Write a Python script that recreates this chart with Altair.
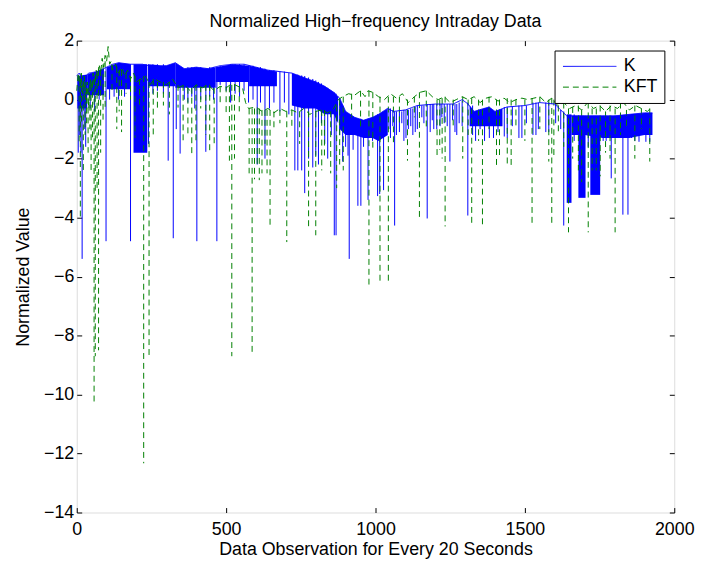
import altair as alt
import pandas as pd

FONT = "Liberation Sans"
BLUE = "#0000ff"
GREEN = "#008000"

# ---------------- K series ----------------
K_base_x = [0, 8, 20, 40, 70, 100, 120, 140, 180, 220, 260, 300, 330, 360, 400, 440, 480, 520, 560, 600,
            640, 680, 720, 760, 800, 830, 860, 880, 900, 930, 960, 990, 1010, 1040, 1060, 1100, 1140, 1200,
            1260, 1290, 1310, 1330, 1380, 1400, 1440, 1500, 1550, 1600, 1620, 1640, 1700, 1760, 1800, 1850,
            1900, 1927]
K_base_y = [0.8, 0.9, 0.7, 0.9, 0.95, 1.1, 1.2, 1.25, 1.2, 1.2, 1.1, 1.15, 1.25, 1.05, 1.1, 1.05, 1.15, 1.2,
            1.2, 1.1, 1.0, 0.95, 0.9, 0.75, 0.6, 0.45, 0.25, 0.05, -0.4, -0.6, -0.7, -0.6, -0.5, -0.3, -0.4,
            -0.35, -0.2, -0.15, -0.15, 0.0, -0.15, -0.4, -0.25, -0.4, -0.25, -0.2, -0.1, -0.15, -0.35, -0.55,
            -0.55, -0.55, -0.55, -0.5, -0.45, -0.45]

# dense, almost solid regions of K (group, x, top, bottom)
K_fill_g = [1, 1, 2, 2, 3, 3, 3, 4, 4, 5, 5, 5, 6, 6, 6, 6, 6, 7, 7, 7, 8, 8, 8,
            9, 9, 9, 9, 9, 9, 10, 10, 10, 10, 10, 10, 10, 11, 11, 11, 11, 11,
            12, 12, 13, 13, 13, 13, 13, 13, 13, 14, 14, 15, 15]
K_fill_x = [2, 35, 35, 91, 101, 140, 180, 190, 236, 240, 300, 330, 330, 360, 400, 440, 465, 465, 520, 577,
            577, 640, 670,
            720, 760, 800, 830, 860, 875, 880, 900, 930, 960, 990, 1010, 1041, 1315, 1330, 1380, 1400, 1425,
            1640, 1656, 1656, 1700, 1760, 1800, 1850, 1900, 1927, 1679, 1703, 1719, 1752]
K_fill_top = [0.8, 0.85, 0.85, 1.05, 1.1, 1.25, 1.2, 1.2, 1.2, 1.2, 1.15, 1.25, 1.25, 1.05, 1.1, 1.05, 1.1,
              1.1, 1.2, 1.15, 1.15, 1.0, 0.95,
              0.9, 0.75, 0.6, 0.45, 0.25, 0.1, 0.05, -0.4, -0.6, -0.7, -0.6, -0.5, -0.3, -0.2, -0.4, -0.25,
              -0.4, -0.3, -0.5, -0.5, -0.55, -0.55, -0.55, -0.55, -0.5, -0.45, -0.45, -0.55, -0.55, -0.55, -0.55]
K_fill_bot = [-0.3, -0.3, 0.15, 0.15, 0.35, 0.35, 0.35, -1.8, -1.8, 0.45, 0.45, 0.45, 0.4, 0.4, 0.4, 0.4, 0.4,
              0.6, 0.6, 0.6, 0.45, 0.45, 0.45,
              -0.2, -0.3, -0.3, -0.5, -0.5, -0.8, -1.0, -1.2, -1.2, -1.3, -1.3, -1.4, -1.2, -0.9, -0.9, -0.9,
              -0.9, -0.9, -3.5, -3.5, -1.2, -1.2, -1.3, -1.3, -1.3, -1.2, -1.2, -3.33, -3.33, -3.23, -3.23]

# individual downward spikes of K
K_spike_x = [5, 10, 14, 18, 25, 30, 45, 60, 75, 98, 110, 125, 140, 160, 180, 240, 255, 270, 290, 306, 323, 333,
             346, 360, 372, 385, 395, 402, 415, 432, 445, 458, 469, 480, 500, 515, 530, 545, 560, 575, 590, 604,
             615, 630, 645, 660, 680, 695, 710, 730, 740, 753, 763, 776, 790, 800, 809, 819, 830, 840, 852, 862,
             868, 880, 890, 900, 908, 912, 925, 941, 951, 960, 975, 990, 1007, 1014, 1027, 1045, 1050, 1058,
             1064, 1070, 1080, 1088, 1095, 1102, 1110, 1118, 1125, 1133, 1140, 1155, 1162, 1173, 1183, 1190,
             1195, 1205, 1216, 1222, 1230, 1240, 1249, 1258, 1266, 1272, 1280, 1290, 1309, 1325, 1335, 1350,
             1365, 1381, 1395, 1410, 1431, 1441, 1458, 1480, 1490, 1505, 1527, 1537, 1545, 1570, 1580, 1603,
             1620, 1630, 1665, 1712, 1762, 1772, 1789, 1800, 1828, 1845, 1857, 1868, 1882, 1895, 1905, 1918]
K_spike_top = [0.8, 0.8, 0.8, 0.8, 0.8, 0.8, 0.9, 0.9, 0.9, 1.1, 1.1, 1.2, 1.2, 1.2, 1.2, 1.2, 1.2, 1.2, 1.2, 1.15,
               1.2, 1.2, 1.1, 1.05, 1.1, 1.1, 1.1, 1.1, 1.1, 1.05, 1.1, 1.1, 1.1, 1.15, 1.15, 1.2, 1.2, 1.2, 1.2,
               1.15, 1.15, 1.1, 1.1, 1.05, 1.0, 1.0, 0.95, 0.95, 0.9, 0.85, 0.85, 0.82, 0.8, 0.75, 0.7, 0.65, 0.6,
               0.55, 0.45, 0.4, 0.3, 0.25, 0.2, 0.05, -0.2, -0.4, -0.5, -0.5, -0.6, -0.65, -0.65, -0.7, -0.65,
               -0.6, -0.5, -0.5, -0.45, -0.3, -0.3, -0.35, -0.4, -0.4, -0.4, -0.4, -0.35, -0.35, -0.35, -0.3,
               -0.3, -0.25, -0.2, -0.2, -0.2, -0.15, -0.15, -0.15, -0.15, -0.15, -0.15, -0.15, -0.15, -0.15,
               -0.15, -0.15, -0.15, -0.15, -0.1, -0.05, -0.1, -0.2, -0.4, -0.35, -0.3, -0.3, -0.4, -0.35, -0.25,
               -0.25, -0.25, -0.2, -0.2, -0.2, -0.1, -0.1, -0.1, -0.1, -0.1, -0.15, -0.35, -0.4, -0.5, -0.55,
               -0.55, -0.55, -0.55, -0.55, -0.55, -0.55, -0.5, -0.5, -0.5, -0.5, -0.45, -0.45]
K_spike_bot = [-1.8, -1.2, -1.8, -5.4, -1.0, -1.6, -0.3, -0.4, 0.0, -4.8, 0.0, 0.1, 0.0, 0.1, -4.8, -1.5, 0.2, 0.3,
               0.2, -2.07, -4.7, -1.0, -1.83, 0.0, -0.1, 0.1, -0.3, -4.8, 0.0, -1.77, 0.1, 0.0, -4.8, 0.5, 0.3,
               -0.1, 0.2, 0.1, 0.3, -0.1, 0.0, -2.2, -0.1, -2.0, -0.3, -0.1, -0.4, -0.1, -0.5, -2.4, -2.4, -2.4,
               -3.17, -2.0, -2.3, -1.9, -2.2, -0.8, -1.5, -2.0, -1.2, -4.6, -4.6, -1.2, -2.1, -1.6, -1.9, -5.4,
               -1.7, -3.6, -3.6, -1.6, -3.4, -1.4, -3.27, -3.2, -3.07, -1.0, -1.3, -0.9, -4.27, -1.2, -1.1,
               -0.8, -1.4, -1.3, -1.0, -0.9, -1.2, -1.1, -1.0, -0.6, -0.8, -4.03, -1.1, -0.7, -1.0, -1.0, -0.9,
               -0.6, -0.8, -0.9, -2.1, -0.7, -1.1, -1.2, -0.8, -0.9, -3.93, -1.2, -1.4, -1.0, -1.4, -1.3, -1.3,
               -1.1, -1.25, -1.3, -0.9, -1.3, -1.3, -0.8, -1.2, -1.2, -1.0, -1.1, -1.1, -0.8, -1.0, -4.27, -1.4,
               -1.6, -1.4, -1.4, -2.67, -1.1, -3.9, -3.9, -1.3, -1.4, -1.43, -1.2, -1.43, -1.43]

# ---------------- KFT series ----------------
F_base_x = [0, 5, 10, 15, 20, 25, 30, 35, 40, 45, 50, 55, 60, 65, 70, 75, 80, 85, 90, 95, 100, 105, 110, 115,
            120, 130, 140, 150, 160, 170, 180, 190, 200, 215, 230, 245, 260, 280, 300, 320, 340, 360, 380, 400,
            420, 440, 460, 480, 500, 520, 540, 555, 565, 575, 600, 620, 640, 660, 680, 700, 720, 740, 760, 780,
            800, 820, 840, 860, 875, 890, 910, 930, 950, 965, 975, 990, 1010, 1030, 1050, 1070, 1090, 1110,
            1130, 1150, 1170, 1190, 1210, 1230, 1250, 1270, 1290, 1310, 1330, 1350, 1370, 1390, 1410, 1430,
            1450, 1470, 1490, 1510, 1530, 1550, 1570, 1590, 1610, 1630, 1650, 1670, 1690, 1710, 1730, 1750,
            1770, 1790, 1810, 1830, 1850, 1870, 1890, 1910, 1920]
F_base_y = [0.3, 0.9, 0.5, 0.9, 0.2, 0.8, 0.0, 0.6, -0.3, 0.7, 0.4, 0.9, 0.5, 1.0, 0.8, 1.2, 0.9, 1.4, 1.1, 1.5,
            1.3, 1.8, 1.2, 1.3, 1.0, 1.2, 0.9, 1.1, 0.8, 1.0, 0.7, 0.9, 0.6, 0.7, 0.8, 0.5, 0.7, 0.6, 0.5, 0.7,
            0.4, 0.5, 0.3, 0.5, 0.4, 0.5, 0.3, 0.45, 0.4, 0.55, 0.45, 0.4, -0.1, -0.3, -0.25, -0.4, -0.3, -0.45,
            -0.3, -0.4, -0.35, -0.45, -0.3, -0.5, -0.4, -0.35, -0.45, -0.3, 0.0, 0.1, 0.2, 0.15, 0.3, 0.1, 0.3,
            0.25, 0.1, 0.0, 0.2, 0.05, 0.2, -0.1, 0.1, 0.25, 0.3, 0.1, 0.0, 0.1, -0.1, 0.0, 0.1, 0.0, 0.1, -0.1,
            0.05, 0.1, -0.05, 0.05, -0.1, 0.0, 0.05, 0.0, 0.05, 0.1, -0.1, 0.05, -0.2, -0.1, -0.3, -0.2, -0.35,
            -0.1, -0.3, -0.2, -0.4, -0.2, -0.3, -0.1, -0.35, -0.2, -0.3, -0.4, -0.3]

F_spike_x = [8, 12, 16, 22, 28, 33, 38, 44, 48, 53, 58, 62, 68, 73, 80, 88, 95, 118, 134, 142, 150, 165, 180, 195,
             210, 224, 242, 256, 270, 290, 310, 339, 356, 372, 385, 399, 415, 432, 445, 460, 480, 500, 511, 519,
             528, 544, 577, 587, 595, 604, 611, 620, 630, 637, 647, 660, 680, 703, 720, 746, 776, 800, 820, 829,
             850, 870, 880, 892, 920, 950, 978, 991, 1015, 1043, 1060, 1080, 1107, 1130, 1147, 1170, 1206, 1215,
             1223, 1233, 1260, 1292, 1310, 1322, 1345, 1358, 1380, 1405, 1415, 1441, 1454, 1470, 1500, 1524,
             1550, 1580, 1590, 1597, 1612, 1630, 1646, 1660, 1679, 1690, 1712, 1725, 1739, 1752, 1770, 1785,
             1802, 1820, 1840, 1868, 1890, 1918]
F_spike_top = [0.8, 0.6, 0.8, 0.5, 0.6, 0.4, 0.4, 0.5, 0.5, 0.6, 0.7, 0.8, 0.9, 1.0, 1.0, 1.2, 1.3, 1.2, 1.1, 1.0,
               1.0, 0.9, 0.8, 0.8, 0.7, 0.8, 0.6, 0.7, 0.6, 0.6, 0.6, 0.5, 0.5, 0.4, 0.4, 0.5, 0.45, 0.5, 0.5, 0.4,
               0.45, 0.45, 0.45, 0.5, 0.5, 0.45, -0.3, -0.3, -0.3, -0.3, -0.3, -0.35, -0.35, -0.35, -0.35, -0.4,
               -0.35, -0.4, -0.35, -0.4, -0.4, -0.4, -0.35, -0.35, -0.4, -0.2, 0.0, 0.1, 0.2, 0.3, 0.3, 0.25, 0.1,
               0.1, 0.1, 0.1, 0.0, 0.1, 0.25, 0.3, 0.0, 0.0, 0.05, 0.1, 0.0, 0.1, 0.0, 0.05, 0.0, 0.0, 0.1, 0.0,
               0.0, 0.05, 0.0, 0.0, 0.0, 0.05, 0.1, 0.0, 0.05, 0.0, -0.2, -0.1, -0.3, -0.25, -0.2, -0.35, -0.1,
               -0.3, -0.3, -0.2, -0.4, -0.2, -0.3, -0.1, -0.35, -0.2, -0.3, -0.3]
F_spike_bot = [-1.5, -4.0, -0.8, -2.5, -1.2, -0.8, -1.8, -1.0, -2.4, -1.4, -10.3, -8.7, -3.0, -8.5, -1.8, -0.8,
               -0.3, 0.2, -1.0, -0.4, -1.1, 0.2, 0.0, -1.3, -0.3, -12.33, -8.73, -1.3, -0.4, -0.2, -0.5, -0.27,
               -1.5, -1.2, -1.9, -1.5, -0.3, -1.2, -1.73, -1.6, -0.2, -0.5, -2.07, -8.7, -2.0, -0.4, -2.5, -8.57,
               -2.7, -2.2, -2.73, -2.5, -1.5, -2.5, -4.33, -1.0, -0.8, -4.83, -1.0, -1.5, -4.3, -4.6, -2.4, -2.0,
               -2.5, -3.0, -2.2, -2.4, -0.6, -1.0, -6.27, -1.73, -6.2, -6.2, -1.5, -0.8, -2.07, -0.6, -4.07, -1.0,
               -2.0, -1.7, -2.0, -4.3, -1.0, -2.0, -1.2, -4.27, -1.4, -4.27, -1.0, -2.27, -2.0, -2.2, -2.3, -1.0,
               -1.4, -4.2, -1.0, -2.1, -4.2, -1.9, -1.2, -1.6, -4.5, -2.0, -2.4, -2.8, -4.5, -2.4, -2.4, -2.6,
               -1.8, -2.0, -4.5, -1.2, -1.0, -2.0, -1.0, -2.1]

x_ticks = [0, 500, 1000, 1500, 2000]
y_ticks = [-14, -12, -10, -8, -6, -4, -2, 0, 2]

# ---------------- tables ----------------
lines = pd.concat([
    pd.DataFrame({"x": K_base_x, "y": K_base_y, "series": "K"}),
    pd.DataFrame({"x": F_base_x, "y": F_base_y, "series": "KFT"}),
])
k_fill = pd.DataFrame({"g": K_fill_g, "x": K_fill_x, "top": K_fill_top, "bot": K_fill_bot})
k_spikes = pd.DataFrame({"x": K_spike_x, "top": K_spike_top, "bot": K_spike_bot})
f_spikes = pd.DataFrame({"x": F_spike_x, "top": F_spike_top, "bot": F_spike_bot})

xscale = alt.Scale(domain=[0, 2000], nice=False, zero=False)
yscale = alt.Scale(domain=[-14, 2], nice=False, zero=False)

axis_common = dict(grid=False, domain=False, tickSize=5, offset=-5, tickColor="black", tickWidth=1,
                   labelFont=FONT, labelFontSize=18, labelColor="black", titleFont=FONT, titleFontSize=18,
                   titleFontWeight="normal", titleColor="black", labelFlush=False, labelOverlap=False)

x_axis = alt.Axis(values=x_ticks, orient="bottom", format="d", labelPadding=8,
                  title="Data Observation for Every 20 Seconds", titlePadding=2, **axis_common)
y_axis = alt.Axis(values=y_ticks, orient="left", format="d", labelPadding=3,
                  title="Normalized Value", titlePadding=11, **axis_common)
x_axis_top = alt.Axis(values=x_ticks, orient="top", labels=False, title=None, grid=False, domain=False,
                      tickSize=5, offset=-5, tickColor="black")
y_axis_right = alt.Axis(values=y_ticks, orient="right", labels=False, title=None, grid=False, domain=False,
                        tickSize=5, offset=-5, tickColor="black")

# invisible carrier of the bottom/left axes
axes_layer = alt.Chart(lines).mark_point(opacity=0).encode(
    x=alt.X("x:Q", scale=xscale, axis=x_axis),
    y=alt.Y("y:Q", scale=yscale, axis=y_axis),
)

fills = alt.Chart(k_fill).mark_area(color=BLUE, opacity=1).encode(
    x=alt.X("x:Q", scale=xscale, axis=None),
    y=alt.Y("top:Q", scale=yscale, axis=None),
    y2="bot:Q",
    detail="g:N",
)

k_rules = alt.Chart(k_spikes).mark_rule(color=BLUE, strokeWidth=1).encode(
    x=alt.X("x:Q", scale=xscale, axis=None),
    y=alt.Y("top:Q", scale=yscale, axis=None),
    y2="bot:Q",
)

f_rules = alt.Chart(f_spikes).mark_rule(color=GREEN, strokeWidth=1, strokeDash=[6, 4]).encode(
    x=alt.X("x:Q", scale=xscale, axis=None),
    y=alt.Y("top:Q", scale=yscale, axis=None),
    y2="bot:Q",
)

legend = alt.Legend(title=None, orient="none", legendX=483, legendY=10, fillColor="white",
                    strokeColor="black", padding=7, symbolType="M-1,0H6.2", symbolSize=225,
                    symbolStrokeWidth=1, labelFont=FONT, labelFontSize=18, labelColor="black",
                    labelOffset=45, rowPadding=3, cornerRadius=0)

series_lines = alt.Chart(lines).mark_line(strokeWidth=1).encode(
    x=alt.X("x:Q", scale=xscale, axis=None),
    y=alt.Y("y:Q", scale=yscale, axis=None),
    color=alt.Color("series:N", scale=alt.Scale(domain=["K", "KFT"], range=[BLUE, GREEN]), legend=legend),
    strokeDash=alt.StrokeDash("series:N", scale=alt.Scale(domain=["K", "KFT"], range=[[1, 0], [6, 4]]),
                              legend=legend),
    order="x:Q",
)

mirror = alt.Chart(lines).mark_point(opacity=0).encode(
    x=alt.X("x:Q", scale=xscale, axis=x_axis_top),
    y=alt.Y("y:Q", scale=yscale, axis=y_axis_right),
)

chart = alt.layer(axes_layer, fills, k_rules, f_rules, series_lines, mirror).resolve_axis(
    x="independent", y="independent"
).properties(
    width=604,
    height=477,
    title=alt.TitleParams("Normalized High\u2212frequency Intraday Data", font=FONT, fontSize=18,
                          fontWeight="normal", color="black", offset=1, anchor="middle"),
    autosize=alt.AutoSizeParams(type="none"),
    padding={"left": 69.5, "top": 30, "right": 25, "bottom": 45},
).configure_view(stroke="black", strokeWidth=1).configure(background="white")

chart.save("out.html", embed_options={"renderer": "svg", "actions": False})
